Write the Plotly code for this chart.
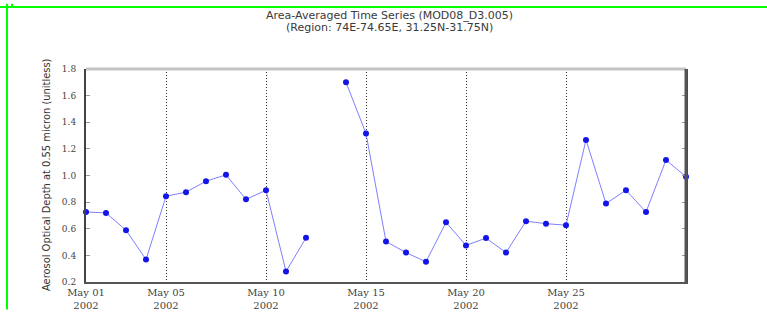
import plotly.graph_objects as go

# ---- data ----
days = [f"2002-05-{d:02d}" for d in range(1, 32)]
aod = [0.726, 0.719, 0.589, 0.369, 0.844, 0.875, 0.957, 1.005, 0.821, 0.889,
       0.279, 0.532, None, 1.700, 1.315, 0.504, 0.421, 0.352, 0.648, 0.475,
       0.530, 0.421, 0.657, 0.638, 0.627, 1.267, 0.790, 0.889, 0.726, 1.116,
       0.991]
tick_dates = ["2002-05-01", "2002-05-05", "2002-05-10", "2002-05-15", "2002-05-20", "2002-05-25"]
tick_text = ["May 01<br>2002", "May 05<br>2002", "May 10<br>2002",
             "May 15<br>2002", "May 20<br>2002", "May 25<br>2002"]
y_ticks = [0.2, 0.4, 0.6, 0.8, 1.0, 1.2, 1.4, 1.6, 1.8]
title_lines = ["Area-Averaged Time Series (MOD08_D3.005)",
               "(Region: 74E-74.65E, 31.25N-31.75N)"]
y_title = "Aerosol Optical Depth at 0.55 micron (unitless)"

W, H = 767, 323
ML, MR, MT, MB = 86, 81, 69, 29
PW, PH = W - ML - MR, H - MT - MB

def px(x):
    return (x - ML) / PW

def py(y):
    return (H - MB - y) / PH

fig = go.Figure()
fig.add_trace(go.Scatter(
    x=days, y=aod, mode="lines+markers", connectgaps=False,
    line=dict(color="#7f7fff", width=1),
    marker=dict(color="#1414e6", size=6, symbol="circle"),
    showlegend=False, cliponaxis=False,
))

fig.update_layout(
    width=W, height=H,
    margin=dict(l=ML, r=MR, t=MT, b=MB, pad=0),
    paper_bgcolor="white", plot_bgcolor="white",
    xaxis=dict(
        range=["2002-05-01", "2002-05-31"],
        tickvals=tick_dates, ticktext=tick_text,
        showgrid=True, gridcolor="#333333", griddash="1px,2px", gridwidth=1,
        showline=True, linecolor="#555555", linewidth=2,
        ticks="", zeroline=False,
        tickfont=dict(family="DejaVu Serif", size=10, color="#444444"),
    ),
    yaxis=dict(
        range=[0.2, 1.8], tickvals=y_ticks, tickformat=".1f",
        showgrid=False, zeroline=False,
        showline=True, linecolor="#444444", linewidth=2, mirror="ticks",
        ticks="inside", ticklen=4, tickcolor="#999999",
        ticklabelstandoff=6,
        tickfont=dict(family="DejaVu Serif", size=9, color="#444444"),
    ),
    font=dict(family="DejaVu Sans", color="#333333"),
)

shapes = [
    # top border of plot area (light gray)
    dict(type="line", xref="paper", yref="paper", x0=0, x1=1, y0=1, y1=1,
         line=dict(color="#c4c4c4", width=3)),
    # right border darker
    dict(type="line", xref="paper", yref="paper", x0=1, x1=1, y0=0, y1=1,
         line=dict(color="#555555", width=3)),
    # green frame lines
    dict(type="line", xref="paper", yref="paper", x0=px(0), x1=px(W), y0=py(3.5), y1=py(3.5),
         line=dict(color="#00ff00", width=2)),
    dict(type="line", xref="paper", yref="paper", x0=px(7), x1=px(7), y0=py(0), y1=py(H),
         line=dict(color="#00ff00", width=2)),
    dict(type="line", xref="paper", yref="paper", x0=px(12), x1=px(12), y0=py(0), y1=py(4),
         line=dict(color="#00ff00", width=2)),
]
fig.update_layout(shapes=shapes)

annotations = [
    dict(text=title_lines[0], xref="paper", yref="paper", x=px(389), y=py(12.5),
         xanchor="center", yanchor="middle", showarrow=False,
         font=dict(family="DejaVu Sans", size=11, color="#3a3a3a")),
    dict(text=title_lines[1], xref="paper", yref="paper", x=px(389), y=py(25.5),
         xanchor="center", yanchor="middle", showarrow=False,
         font=dict(family="DejaVu Sans", size=11, color="#3a3a3a")),
    dict(text=y_title, xref="paper", yref="paper", x=px(46), y=py(181),
         xanchor="center", yanchor="middle", textangle=-90, showarrow=False,
         font=dict(family="Liberation Sans Narrow, DejaVu Sans Condensed, Liberation Sans",
                   size=11, color="#333333")),
]
fig.update_layout(annotations=annotations)

fig.write_html("out.html")
